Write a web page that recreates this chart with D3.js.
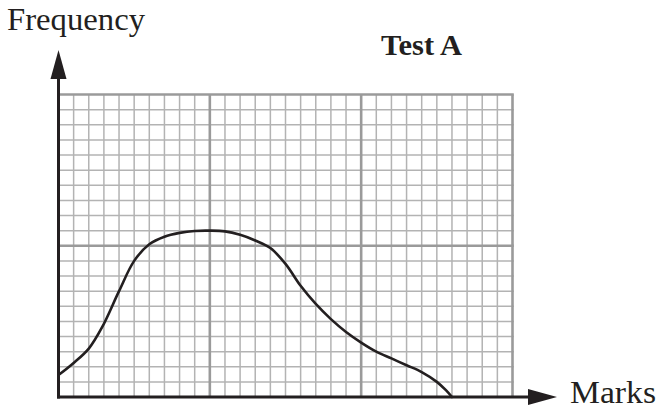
<!DOCTYPE html>
<html>
<head>
<meta charset="utf-8">
<script src="https://cdn.jsdelivr.net/npm/d3@7"></script>
<style>
  html, body { margin: 0; padding: 0; background: #fff; }
  svg { display: block; }
  text { font-family: "Liberation Serif", "DejaVu Serif", serif; fill: #231f20; }
</style>
</head>
<body>
<svg id="chart" width="657" height="409"></svg>
<script>
// Curve of frequency against marks, in grid squares
const marks     = [0, 1, 2, 2.9, 4, 5, 6, 7, 8, 9, 10, 11, 12, 13, 14, 15, 16, 17, 18, 19, 20, 21, 22, 23, 24, 25, 25.6, 26];
const frequency = [1.45, 2.25, 3.2, 4.65, 7.0, 9.0, 10.1, 10.6, 10.85, 10.98, 11.0, 10.95, 10.72, 10.35, 9.85, 8.8, 7.35, 6.15, 5.15, 4.3, 3.6, 3.0, 2.55, 2.1, 1.65, 1.0, 0.45, 0];

// Grid extent (squares) and line spacing
const xSquares = 30, ySquares = 20, majorEvery = 10;
const title = "Test A", yLabel = "Frequency", xLabel = "Marks";

const svg = d3.select("#chart");
const x = d3.scaleLinear().domain([0, xSquares]).range([58.5, 512.5]);
const y = d3.scaleLinear().domain([0, ySquares]).range([397, 94.5]);

const ink = "#231f20";
const grid = svg.append("g");

const xs = d3.range(0, xSquares + 1), ys = d3.range(0, ySquares + 1);
const isMajor = v => v % majorEvery === 0;

// minor lines first, major lines on top
[false, true].forEach(major => {
  grid.selectAll(null).data(xs.filter(v => isMajor(v) === major && v > 0))
    .join("line")
    .attr("x1", d => x(d)).attr("x2", d => x(d))
    .attr("y1", y(0)).attr("y2", y(ySquares))
    .attr("stroke", major ? "#9a9a9a" : "#b3b3b3")
    .attr("stroke-width", major ? 2.6 : 1.5);
  grid.selectAll(null).data(ys.filter(v => isMajor(v) === major && v > 0))
    .join("line")
    .attr("y1", d => y(d)).attr("y2", d => y(d))
    .attr("x1", x(0)).attr("x2", x(xSquares) + 1.3)
    .attr("stroke", major ? "#9a9a9a" : "#b3b3b3")
    .attr("stroke-width", major ? 2.6 : 1.5);
});

// the frequency curve
const line = d3.line()
  .x((d, i) => x(marks[i]))
  .y(d => y(d))
  .curve(d3.curveCatmullRom.alpha(0.5));
svg.append("path")
  .attr("d", line(frequency))
  .attr("fill", "none")
  .attr("stroke", ink)
  .attr("stroke-width", 2.6)
  .attr("stroke-linecap", "round");

// axes with arrow heads
svg.append("line")
  .attr("x1", x(0)).attr("x2", x(0))
  .attr("y1", y(0) + 1.5).attr("y2", 70)
  .attr("stroke", ink).attr("stroke-width", 3);
svg.append("path")
  .attr("d", `M${x(0)},50 L${x(0) - 8},79 L${x(0) + 8},79 Z`)
  .attr("fill", ink);

svg.append("line")
  .attr("x1", x(0) - 1.5).attr("x2", 535)
  .attr("y1", y(0)).attr("y2", y(0))
  .attr("stroke", ink).attr("stroke-width", 3);
svg.append("path")
  .attr("d", `M557,${y(0)} L528,${y(0) - 8} L528,${y(0) + 8} Z`)
  .attr("fill", ink);

// labels
svg.append("text").attr("x", 7).attr("y", 30)
  .attr("font-size", 31)
  .attr("textLength", 138).attr("lengthAdjust", "spacingAndGlyphs")
  .text(yLabel);
svg.append("text").attr("x", 570).attr("y", 403)
  .attr("font-size", 31)
  .attr("textLength", 86).attr("lengthAdjust", "spacingAndGlyphs")
  .text(xLabel);
svg.append("text").attr("x", 381).attr("y", 55)
  .attr("font-size", 29).attr("font-weight", "bold")
  .attr("textLength", 81).attr("lengthAdjust", "spacingAndGlyphs")
  .text(title);
</script>
</body>
</html>
